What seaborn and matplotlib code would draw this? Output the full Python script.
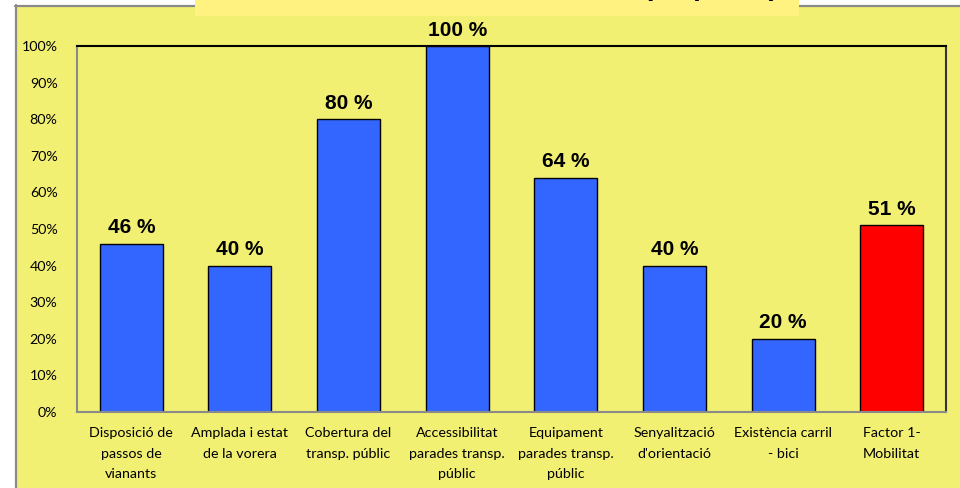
import matplotlib
matplotlib.use("Agg")
import matplotlib.pyplot as plt
from matplotlib.lines import Line2D
from matplotlib.patches import Rectangle
import seaborn as sns
import pandas as pd

# Chart data
categories = [
    "Disposició de\npassos de\nvianants",
    "Amplada i estat\nde la vorera",
    "Cobertura del\ntransp. públic",
    "Accessibilitat\nparades transp.\npúblic",
    "Equipament\nparades transp.\npúblic",
    "Senyalització\nd'orientació",
    "Existència carril\n- bici",
    "Factor 1-\nMobilitat",
]
values = [46, 40, 80, 100, 64, 40, 20, 51]
bar_colors = ["#3366FF"] * 7 + ["#FF0000"]
y_ticks = [0, 10, 20, 30, 40, 50, 60, 70, 80, 90, 100]
y_tick_labels = [f"{t}%" for t in y_ticks]
title_text = "Resultats Factor 1 - Mobilitat (en punts)"

YELLOW = "#F2F073"
TITLE_BG = "#FFF280"
BORDER = "#8A8A8A"

sns.set_theme(style="white")
plt.rcParams["font.family"] = ["Lato", "DejaVu Sans"]

W, H = 960, 488
fig = plt.figure(figsize=(W / 100, H / 100), dpi=100)
fig.patch.set_facecolor("white")

# yellow chart area with its grey frame on the left and top
fig.add_artist(Rectangle((15 / W, 0), 1 - 15 / W, 1 - 5 / H, transform=fig.transFigure,
                         facecolor=YELLOW, edgecolor="none", zorder=0))
fig.add_artist(Line2D([15.5 / W, 15.5 / W], [0, 1 - 5 / H], transform=fig.transFigure,
                      color=BORDER, lw=1.6, zorder=1))
fig.add_artist(Line2D([15 / W, 1], [1 - 5.5 / H, 1 - 5.5 / H], transform=fig.transFigure,
                      color=BORDER, lw=1.6, zorder=1))

# title box sitting on the top edge
fig.add_artist(Rectangle((195 / W, 1 - 16 / H), (799 - 195) / W, 16 / H,
                         transform=fig.transFigure, facecolor=TITLE_BG,
                         edgecolor="none", zorder=2))
fig.text(778 / W, 1 + 5 / H, title_text, ha="right", va="baseline",
         fontsize=20, fontweight="bold", family=["Liberation Sans", "DejaVu Sans"],
         color="black", zorder=3)

ax = fig.add_axes([77 / W, 1 - 412 / H, (946 - 77) / W, (412 - 46) / H])
ax.set_facecolor(YELLOW)

df = pd.DataFrame({"cat": categories, "val": values})
sns.barplot(data=df, x="cat", y="val", hue="cat", palette=bar_colors, legend=False,
            width=0.58, edgecolor="black", linewidth=1.0, saturation=1, ax=ax)

ax.set_ylim(0, 100)
ax.set_xlim(-0.5, len(categories) - 0.5)
ax.set_yticks(y_ticks)
ax.set_yticklabels(y_tick_labels)
ax.set_xlabel("")
ax.set_ylabel("")
ax.tick_params(axis="y", length=0, pad=14, labelsize=10.3, labelcolor="black")
ax.tick_params(axis="x", length=0, pad=11, labelsize=10.3, labelcolor="black")
for lbl in ax.get_xticklabels():
    lbl.set_linespacing(1.86)
    lbl.set_multialignment("center")

ax.spines["left"].set_color(BORDER)
ax.spines["bottom"].set_color(BORDER)
ax.spines["top"].set_color("black")
ax.spines["right"].set_color("#333333")
for s in ax.spines.values():
    s.set_linewidth(1.5)
    s.set_visible(True)

# value labels above each bar
for i, v in enumerate(values):
    ax.annotate(f"{v} %", xy=(i, v), xytext=(0, 7.5), textcoords="offset points",
                ha="center", va="baseline", fontsize=15, fontweight="bold",
                family=["Liberation Sans", "DejaVu Sans"], color="black",
                annotation_clip=False)

fig.savefig("out.png", dpi=100, facecolor=fig.get_facecolor())
